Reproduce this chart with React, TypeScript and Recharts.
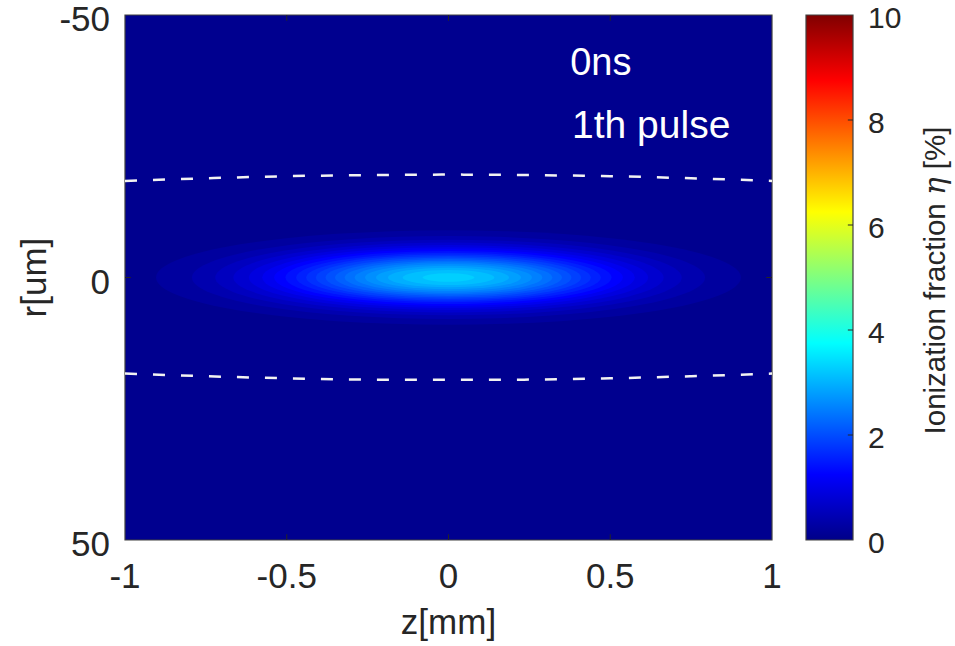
import React from 'react'
import {
  ComposedChart,
  Line,
  XAxis,
  YAxis,
  ReferenceArea,
  ReferenceLine,
  ReferenceDot
} from 'recharts'

const FONT = '"Liberation Sans", Arial, Helvetica, sans-serif'
const INK = '#262626'
const FRAME = '#404040'
const BG_BLUE = '#00008f'

// dashed beam boundary (z in mm, r in um)
const zGrid = [-1, -0.75, -0.5, -0.25, 0, 0.25, 0.5, 0.75, 1]
const upperEdge = [-18.4, -18.9, -19.3, -19.5, -19.6, -19.5, -19.3, -18.9, -18.4]
const lowerEdge = [18.3, 18.8, 19.2, 19.45, 19.5, 19.45, 19.2, 18.8, 18.3]

const xTicks = [-1, -0.5, 0, 0.5, 1]
const yTicks = [-50, 0, 50]
const cbTicks = [0, 2, 4, 6, 8, 10]

// ionization blob as nested colour bands: lower bound (%), half length in z (mm), half width in r (um)
const bandLevels = [0.156, 0.313, 0.469, 0.625, 0.781, 0.938, 1.094, 1.25, 1.406, 1.563,
  1.719, 1.875, 2.031, 2.188, 2.344, 2.5, 2.656, 2.813, 2.969, 3.125]
const bandHalfZ = [0.904, 0.793, 0.721, 0.665, 0.617, 0.576, 0.539, 0.504, 0.471, 0.44,
  0.41, 0.38, 0.351, 0.321, 0.29, 0.258, 0.224, 0.187, 0.142, 0.08]
const bandHalfR = [9.0, 7.9, 7.2, 6.65, 6.17, 5.76, 5.39, 5.04, 4.71, 4.4,
  4.1, 3.8, 3.51, 3.21, 2.9, 2.58, 2.24, 1.87, 1.42, 0.8]

const lineData = zGrid.map((z, i) => ({ z, top: upperEdge[i], bot: lowerEdge[i] }))
const cbData = [{ x: 0, v: 0 }, { x: 1, v: 10 }]

// matlab jet(64) colour for a value on the 0..10 scale
function jet(v: number) {
  const idx = Math.max(0, Math.min(63, Math.round((v / 10) * 64)))
  const x = (idx + 1) / 64
  const c = (d: number) => Math.round(255 * Math.max(0, Math.min(1, 1.5 - Math.abs(4 * x - d))))
  return `rgb(${c(3)},${c(2)},${c(1)})`
}

const tickStyle = { fontSize: 35, fill: INK, fontFamily: FONT }

const rLabel = (props: any) => {
  const vb = props.viewBox
  const tx = 46
  const ty = vb.y + vb.height / 2
  return (
    <text x={tx} y={ty} transform={`rotate(-90 ${tx} ${ty})`} textAnchor="middle"
      fontSize={35} fill={INK} fontFamily={FONT}>r[um]</text>
  )
}

const cbLabel = (props: any) => {
  const vb = props.viewBox
  const tx = vb.x + 92
  const ty = vb.y + vb.height / 2 + 3
  return (
    <text x={tx} y={ty} transform={`rotate(-90 ${tx} ${ty})`} textAnchor="middle"
      fontSize={29.5} fill={INK} fontFamily={FONT}>
      Ionization fraction <tspan fontStyle="italic" fontFamily="DejaVu Serif">η</tspan> [%]
    </text>
  )
}

function IonizationMap() {
  return (
    <ComposedChart width={800} height={646} data={lineData}
      margin={{ top: 15, right: 28, bottom: 0, left: 0 }}>
      <XAxis type="number" dataKey="z" domain={[-1, 1]} ticks={xTicks} interval={0}
        axisLine={false} tickLine={false} tickSize={0} tickMargin={23} height={106}
        tick={tickStyle}
        label={{ value: 'z[mm]', position: 'insideBottom', offset: 12, fontSize: 35, fill: INK, fontFamily: FONT }} />
      <YAxis type="number" domain={[-50, 50]} reversed ticks={yTicks} interval={0} width={125}
        axisLine={false} tickLine={false} tickSize={0} tickMargin={15}
        tick={{ ...tickStyle, dy: 4 }}
        label={{ content: rLabel }} />

      <ReferenceArea x1={-1} x2={1} y1={-50} y2={50} fill={BG_BLUE} fillOpacity={1} stroke="none" />
      {bandLevels.map((v, i) => (
        <ReferenceArea key={`band-${i}`} x1={-bandHalfZ[i]} x2={bandHalfZ[i]} y1={-bandHalfR[i]} y2={bandHalfR[i]}
          shape={(p: any) => (
            <ellipse cx={p.x + p.width / 2} cy={p.y + p.height / 2} rx={p.width / 2} ry={p.height / 2} fill={jet(v)} />
          )} />
      ))}

      <Line dataKey="top" type="monotone" stroke="#f2f2f2" strokeWidth={2.5} strokeDasharray="12 16"
        dot={false} activeDot={false} isAnimationActive={false} />
      <Line dataKey="bot" type="monotone" stroke="#f2f2f2" strokeWidth={2.5} strokeDasharray="12 16"
        dot={false} activeDot={false} isAnimationActive={false} />

      {/* inward ticks */}
      {[-0.5, 0, 0.5].map((z) => (
        <ReferenceLine key={`bt-${z}`} segment={[{ x: z, y: 50 }, { x: z, y: 48.9 }]} stroke={INK} />
      ))}
      {[-0.5, 0, 0.5].map((z) => (
        <ReferenceLine key={`tt-${z}`} segment={[{ x: z, y: -50 }, { x: z, y: -48.9 }]} stroke={INK} />
      ))}
      <ReferenceLine segment={[{ x: -1, y: 0 }, { x: -0.982, y: 0 }]} stroke={INK} />
      <ReferenceLine segment={[{ x: 1, y: 0 }, { x: 0.982, y: 0 }]} stroke={INK} />

      <ReferenceArea x1={-1} x2={1} y1={-50} y2={50} fill="none" fillOpacity={0} stroke={FRAME} strokeWidth={1.2} />

      <ReferenceDot x={0.376} y={-38.6} r={0}
        shape={(p: any) => (
          <text x={p.cx} y={p.cy} fill="#ffffff" fontSize={38} fontFamily={FONT}>0ns</text>
        )} />
      <ReferenceDot x={0.382} y={-26.6} r={0}
        shape={(p: any) => (
          <text x={p.cx} y={p.cy} fill="#ffffff" fontSize={39} fontFamily={FONT}>1th pulse</text>
        )} />
    </ComposedChart>
  )
}

function ColorBar() {
  return (
    <ComposedChart width={165} height={646} data={cbData}
      margin={{ top: 15, right: 0, bottom: 106, left: 16 }}>
      <defs>
        <linearGradient id="jetGrad" x1="0" y1="1" x2="0" y2="0">
          <stop offset="0" stopColor="rgb(0,0,136)" />
          <stop offset="0.125" stopColor="rgb(0,0,255)" />
          <stop offset="0.375" stopColor="rgb(0,255,255)" />
          <stop offset="0.625" stopColor="rgb(255,255,0)" />
          <stop offset="0.875" stopColor="rgb(255,0,0)" />
          <stop offset="1" stopColor="rgb(128,0,0)" />
        </linearGradient>
      </defs>
      <XAxis type="number" dataKey="x" domain={[0, 1]} hide />
      <YAxis type="number" orientation="right" domain={[0, 10]} ticks={cbTicks} interval={0} width={102}
        axisLine={false} tickLine={false} tickSize={0} tickMargin={15}
        tick={{ fontSize: 30, fill: INK, fontFamily: FONT, dy: 2 }}
        label={{ content: cbLabel }} />
      {/* invisible carrier series so the chart lays out its axes */}
      <Line dataKey="v" stroke="none" dot={false} activeDot={false} isAnimationActive={false} />
      <ReferenceArea x1={0} x2={1} y1={0} y2={10} fill="url(#jetGrad)" fillOpacity={1} stroke="none" />
      {cbTicks.slice(1, -1).map((v) => (
        <ReferenceLine key={`cb-${v}`} segment={[{ x: 0.89, y: v }, { x: 1, y: v }]} stroke={INK} />
      ))}
      <ReferenceArea x1={0} x2={1} y1={0} y2={10} fill="none" fillOpacity={0} stroke={FRAME} strokeWidth={1.2} />
    </ComposedChart>
  )
}

export default function App() {
  return (
    <div style={{ position: 'absolute', left: 0, top: 0, width: 955, height: 646, background: '#fff' }}>
      <div style={{ position: 'absolute', left: 0, top: 0 }}>
        <IonizationMap />
      </div>
      <div style={{ position: 'absolute', left: 790, top: 0 }}>
        <ColorBar />
      </div>
    </div>
  )
}
